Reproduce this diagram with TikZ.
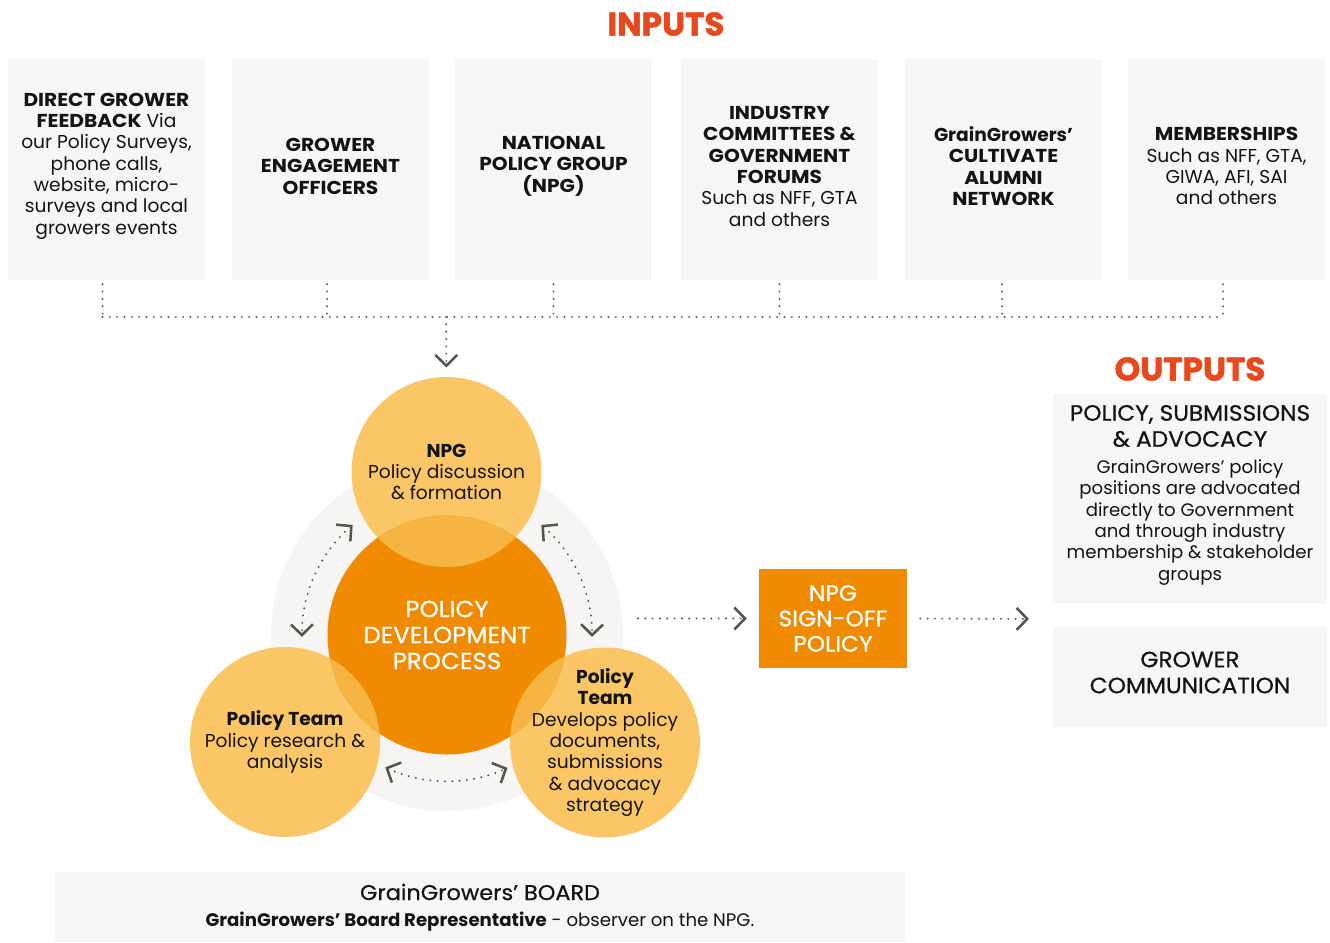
\documentclass[tikz,border=0pt]{standalone}
\usepackage{fontspec}
\usetikzlibrary{arrows.meta}
\setmainfont{Poppins}
\newfontfamily\capbf{Poppins}[FakeStretch=1.08]
\newfontfamily\medf{Poppins}[FakeStretch=1.05,FakeBold=0.6]
\newfontfamily\blkf{Poppins}[FakeBold=1.5]
\newcommand\capb[1]{{\capbf\bfseries #1}}
\definecolor{ttlc}{HTML}{E8491C}
\definecolor{boxg}{HTML}{F7F6F4}
\definecolor{orng}{HTML}{F08A00}
\definecolor{ylw}{HTML}{FBC766}
\definecolor{amb}{HTML}{F6B443}
\definecolor{faint}{HTML}{F6F5F3}
\definecolor{arr}{HTML}{55554F}
\definecolor{txt}{HTML}{141414}
\tikzset{
  chev/.tip={Straight Barb[length=8pt,width=16.5pt,line width=1.9pt]},
  dotl/.style={draw=arr, line width=1.6pt, line cap=round, dash pattern=on 0pt off 5.5pt},
  ttl/.style={font=\blkf\bfseries\fontsize{24.5}{26}\selectfont, text=ttlc, inner sep=0pt},
  inbox/.style={fill=boxg, minimum width=197*0.75pt, minimum height=221*0.75pt, inner sep=0pt},
  intext/.style={align=center, font=\fontsize{14}{16}\selectfont, text=txt, inner sep=0pt},
  ycirc/.style={circle, fill=ylw, minimum size=190*0.75pt, inner sep=0pt},
  ctext/.style={align=center, text=txt, inner sep=0pt, font=\fontsize{14}{16.1}\selectfont},
  ocirc/.style={circle, fill=orng, minimum size=239*0.75pt, inner sep=0pt, align=center, text=white, font=\medf\fontsize{17.5}{19.5}\selectfont},
  sobox/.style={fill=orng, minimum width=148*0.75pt, minimum height=99*0.75pt, inner sep=0pt, align=center, text=white, font=\medf\fontsize{16.7}{19}\selectfont},
  outbox/.style={fill=boxg, minimum width=274*0.75pt, inner sep=0pt},
  outhead/.style={align=center, text=txt, inner sep=0pt, font=\medf\fontsize{16.6}{19.5}\selectfont},
  outbody/.style={align=center, text=txt, inner sep=0pt, font=\fontsize{13.6}{16}\selectfont},
}
\begin{document}
\begin{tikzpicture}[x=0.75pt,y=-0.75pt]
\useasboundingbox[fill=white] (0,0) rectangle (1330,942);

% titles
\node[ttl] (tin) at (666,24) {INPUTS};
\node[ttl] (tout) at (1190,369) {OUTPUTS};

% input boxes
\node[inbox] (b1) at (106.5,169.5) {};
\node[inbox] (b2) at (330.5,169.5) {};
\node[inbox] (b3) at (553.5,169.5) {};
\node[inbox] (b4) at (779.5,169.5) {};
\node[inbox] (b5) at (1003.5,169.5) {};
\node[inbox] (b6) at (1226.5,169.5) {};
\node[intext] (t1) at ([yshift=2.5pt]b1.center) {\capb{DIRECT GROWER}\\\capb{FEEDBACK} Via\\our Policy Surveys,\\phone calls,\\website, micro-\\surveys and local\\growers events};
\node[intext] (t2) at ([yshift=2.5pt]b2.center) {\capb{GROWER}\\\capb{ENGAGEMENT}\\\capb{OFFICERS}};
\node[intext] (t3) at ([yshift=2.5pt]b3.center) {\capb{NATIONAL}\\\capb{POLICY GROUP}\\\capb{(NPG)}};
\node[intext] (t4) at ([yshift=2.5pt]b4.center) {\capb{INDUSTRY}\\\capb{COMMITTEES \&}\\\capb{GOVERNMENT}\\\capb{FORUMS}\\Such as NFF, GTA\\and others};
\node[intext] (t5) at ([yshift=2.5pt]b5.center) {\textbf{GrainGrowers’}\\\capb{CULTIVATE}\\\capb{ALUMNI}\\\capb{NETWORK}};
\node[intext] (t6) at ([yshift=2.5pt]b6.center) {\capb{MEMBERSHIPS}\\Such as NFF, GTA,\\GIWA, AFI, SAI\\and others};

% bus
\coordinate (bus) at (446,317);
\foreach \b/\dx in {b1/-3,b2/-2.6,b3/0,b4/0,b5/-1.1,b6/-2.6}{
  \draw[dotl, shorten <=3pt] ([xshift=\dx pt]\b.south) -- ([xshift=\dx pt]\b.south |- bus);
}
\draw[dotl] ([xshift=-3pt]b1.south |- bus) -- ([xshift=-2.6pt]b6.south |- bus);

% circles
\node[circle, fill=faint, minimum size=352*0.75pt, inner sep=0pt] (ring) at (447,635) {};
\node[ycirc] (npg) at (446.5,472) {};
\node[ycirc] (ptl) at (285,742) {};
\node[ycirc] (ptr) at (605,742.5) {};
\node[ocirc] (pdp) at (447,635) {POLICY\\DEVELOPMENT\\PROCESS};
\begin{scope}
  \clip (pdp.center) circle[radius=119.5];
  \fill[amb] (npg.center) circle[radius=95];
  \fill[amb] (ptl.center) circle[radius=95];
  \fill[amb] (ptr.center) circle[radius=95];
\end{scope}
\node[ctext] (npgt) at (npg.center) {\textbf{NPG}\\Policy discussion\\\& formation};
\node[ctext] (ptlt) at (ptl.center) {\textbf{Policy Team}\\Policy research \&\\analysis};
\node[ctext] (ptrt) at (ptr.center) {\textbf{Policy}\\\textbf{Team}\\Develops policy\\documents,\\submissions\\\& advocacy\\strategy};

\draw[dotl, -chev, shorten >=7pt] (bus) -- (npg.north);

% cycle arrows
\coordinate (l1) at ([shift={(-130.6:145)}]pdp.center);
\coordinate (r1) at ([shift={(-49.4:145)}]pdp.center);
\coordinate (m1) at ([shift={(115:146)}]pdp.center);
\draw[dotl, chev-chev] (l1) arc[start angle=-130.6, end angle=-180.7, radius=145];
\draw[dotl, chev-chev] (r1) arc[start angle=-49.4, end angle=0.7, radius=145];
\draw[dotl, chev-chev] (m1) arc[start angle=115, end angle=65.5, radius=146];

% sign-off
\node[sobox] (so) at (833,618.5) {NPG\\SIGN-OFF\\POLICY};
\draw[dotl, -chev, shorten <=11pt, shorten >=9pt] (so.west -| ring.east) -- (so.west);
\coordinate (outs) at (1053,619);
\draw[dotl, -chev, shorten <=9.75pt, shorten >=18pt] (so.east) -- (outs);

% outputs
\node[outbox, minimum height=210*0.75pt] (o1) at (1190,499) {};
\node[outhead] (o1h) at (1190,426) {POLICY, SUBMISSIONS\\\& ADVOCACY};
\node[outbody] (o1b) at (1190,522.5) {GrainGrowers’ policy\\positions are advocated\\directly to Government\\and through industry\\membership \& stakeholder\\groups};
\node[outbox, minimum height=100*0.75pt] (o2) at (1190,677) {};
\node[outhead] (o2h) at (1190,672.5) {GROWER\\COMMUNICATION};

% board
\node[fill=boxg, minimum width=850*0.75pt, minimum height=70*0.75pt, inner sep=0pt] (board) at (480,907) {};
\node[outhead, font=\medf\fontsize{16}{19}\selectfont] (bh) at (480,892) {GrainGrowers’ BOARD};
\node[text=txt, inner sep=0pt, font=\fontsize{13.6}{16}\selectfont] (bt) at (480,922) {\textbf{GrainGrowers’ Board Representative} - observer on the NPG.};
\end{tikzpicture}
\end{document}
